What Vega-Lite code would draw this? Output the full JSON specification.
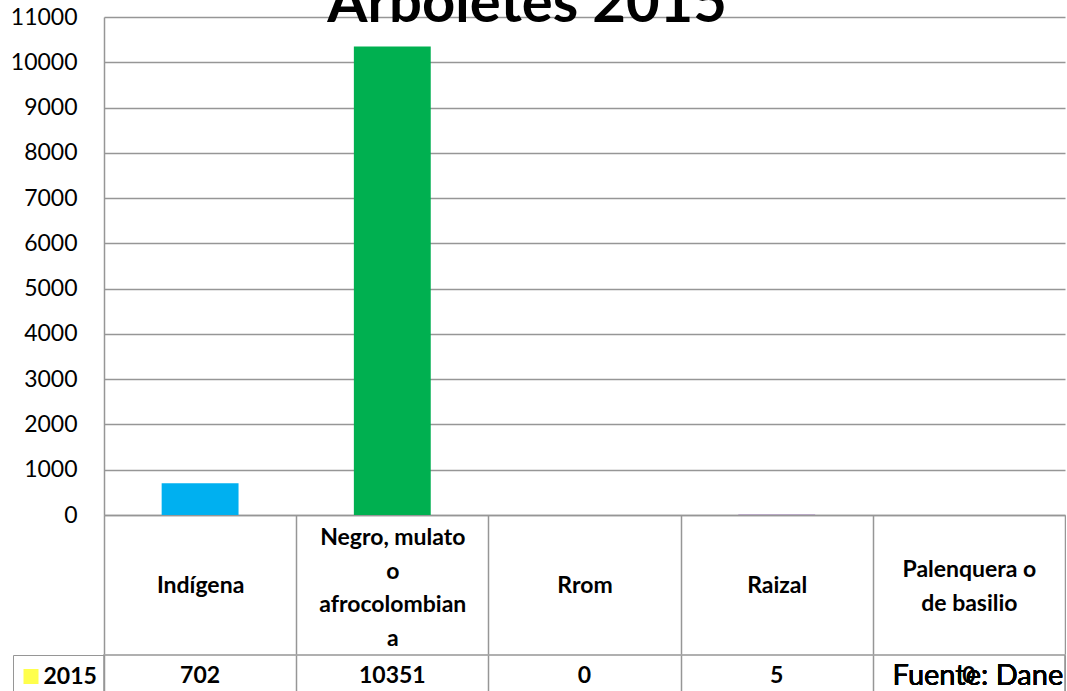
{
  "$schema": "https://vega.github.io/schema/vega-lite/v6.json",
  "padding": {"left": 10, "top": -24, "right": 0, "bottom": 0},
  "background": "white",
  "title": {"text": "Arboletes 2015", "font": "Lato", "fontSize": 58, "fontWeight": "bold", "color": "black", "anchor": "middle", "baseline": "alphabetic", "offset": -74, "dx": -11},
  "config": {"view": {"stroke": null}, "font": "Lato"},
  "data": {"values": [
    {"grupo": "Indígena", "valor": 702, "serie": "2015"},
    {"grupo": "Negro, mulato o afrocolombiana", "valor": 10351, "serie": "2015"},
    {"grupo": "Rrom", "valor": 0, "serie": "2015"},
    {"grupo": "Raizal", "valor": 5, "serie": "2015"},
    {"grupo": "Palenquera o de basilio", "valor": 0, "serie": "2015"}
  ]},
  "spacing": -3,
  "resolve": {"scale": {"fill": "independent", "color": "independent"}, "legend": {"fill": "independent", "color": "independent"}},
  "vconcat": [
    {
      "width": 961,
      "height": 498,
      "mark": {"type": "bar", "width": {"band": 0.4}},
      "encoding": {
        "x": {"field": "grupo", "type": "nominal", "sort": null,
          "scale": {"paddingInner": 0, "paddingOuter": 0},
          "axis": {"title": null, "orient": "bottom", "tickBand": "extent", "tickSize": 139, "tickColor": "#969696", "tickWidth": 1.5,
            "domainColor": "#969696", "domainWidth": 1.5, "labelAngle": 0, "labelFont": "Lato", "labelFontSize": 23, "labelFontWeight": "bold",
            "labelColor": "black", "labelLineHeight": 33.5, "labelBaseline": "middle",
            "labelPadding": {"condition": [
              {"test": "datum.value == 'Negro, mulato o afrocolombiana'", "value": -116.5},
              {"test": "datum.value == 'Palenquera o de basilio'", "value": -84.5}
            ], "value": -68.5},
            "labelLimit": 0, "labelOverlap": false, "labelFlush": false, "labelBound": false, "grid": false,
            "labelExpr": "datum.value == 'Negro, mulato o afrocolombiana' ? ['Negro, mulato', 'o', 'afrocolombian', 'a'] : datum.value == 'Palenquera o de basilio' ? ['Palenquera o', 'de basilio'] : datum.value"}},
        "y": {"field": "valor", "type": "quantitative",
          "scale": {"domain": [0, 11000], "nice": false},
          "axis": {"title": null, "values": [0, 1000, 2000, 3000, 4000, 5000, 6000, 7000, 8000, 9000, 10000, 11000], "format": "d",
            "grid": true, "gridColor": "#969696", "gridWidth": 1.5, "ticks": false, "tickSize": 0,
            "domainColor": "#969696", "domainWidth": 1.5, "labelFont": "Lato", "labelFontSize": 23, "labelColor": "black", "labelPadding": 27}},
        "color": {"field": "grupo", "type": "nominal", "legend": null,
          "scale": {"domain": ["Indígena", "Negro, mulato o afrocolombiana", "Rrom", "Raizal", "Palenquera o de basilio"],
            "range": ["#00B0F0", "#00B050", "#FF0000", "#7030A0", "#FFC000"]}}
      }
    },
    {
      "width": 961,
      "height": 42,
      "view": {"stroke": "#969696", "strokeWidth": 1.5},
      "layer": [
        {
          "mark": {"type": "text", "font": "Lato", "fontSize": 23, "fontWeight": "bold", "color": "black", "baseline": "middle"},
          "encoding": {
            "x": {"field": "grupo", "type": "nominal", "sort": null,
              "scale": {"paddingInner": 0, "paddingOuter": 0},
              "axis": {"title": null, "orient": "top", "grid": true, "gridColor": "#969696", "gridWidth": 1.5, "tickBand": "extent",
                "labels": false, "ticks": false, "domain": false}},
            "text": {"field": "valor", "type": "quantitative", "format": "d"}
          }
        },
        {
          "mark": {"type": "square", "size": 0, "filled": true},
          "encoding": {
            "fill": {"field": "serie", "type": "nominal",
              "scale": {"range": ["#FFFF00"]},
              "legend": {"title": null, "orient": "none", "legendX": -91, "legendY": 0, "strokeColor": "#969696",
                "padding": 6.5, "columnPadding": 0, "clipHeight": 30, "symbolType": "square", "symbolSize": 225, "symbolStrokeWidth": 0, "labelOffset": 1,
                "labelFont": "Lato", "labelFontSize": 23, "labelFontWeight": "bold", "labelColor": "black"}}
          }
        },
        {
          "mark": {"type": "text", "text": "Fuente: Dane", "font": "Lato", "fontSize": 29, "color": "black", "baseline": "middle", "dx": 9},
          "encoding": {
            "x": {"datum": "Palenquera o de basilio", "type": "nominal"}
          }
        }
      ]
    }
  ]
}
